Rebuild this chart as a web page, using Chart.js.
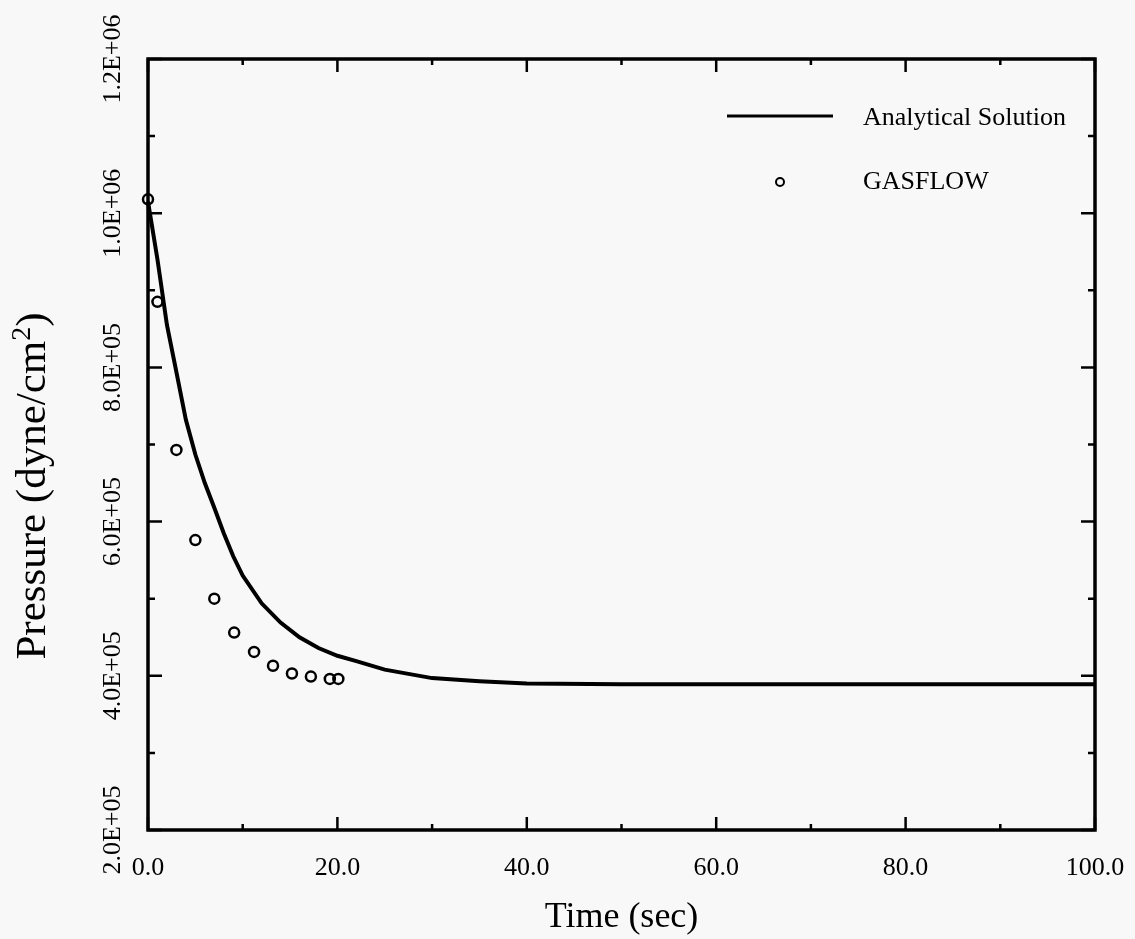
<!DOCTYPE html>
<html>
<head>
<meta charset="utf-8">
<script src="https://cdn.jsdelivr.net/npm/chart.js@4.4.1/dist/chart.umd.min.js"></script>
<style>
  html, body { margin: 0; padding: 0; background: #f8f8f8; }
  #wrap { width: 1135px; height: 939px; position: relative; }
</style>
</head>
<body>
<div id="wrap"><canvas id="chart"></canvas></div>
<script>
// Analytical solution (time in sec, pressure in dyne/cm2)
const analyticTime = [0, 1, 2, 3, 4, 5, 6, 7, 8, 9, 10, 12, 14, 16, 18, 20, 22, 25, 30, 35, 40, 50, 60, 80, 100];
const analyticPressure = [1.015e6, 9.40e5, 8.55e5, 7.94e5, 7.32e5, 6.87e5, 6.50e5, 6.18e5, 5.85e5, 5.55e5, 5.30e5,
  4.94e5, 4.69e5, 4.50e5, 4.36e5, 4.26e5, 4.19e5, 4.08e5, 3.97e5, 3.93e5, 3.90e5, 3.89e5, 3.89e5, 3.89e5, 3.89e5];

// GASFLOW results
const gasTime = [0, 1, 3, 5, 7, 9.1, 11.2, 13.2, 15.2, 17.2, 19.2, 20.1];
const gasPressure = [1.018e6, 8.85e5, 6.93e5, 5.76e5, 5.00e5, 4.56e5, 4.31e5, 4.13e5, 4.03e5, 3.99e5, 3.96e5, 3.96e5];

// Axis ranges and labelled ticks
const xMin = 0, xMax = 100, xStep = 10;
const yMin = 2e5, yMax = 1.2e6, yStep = 1e5;
const xLabelTicks = [0, 20, 40, 60, 80, 100];
const yLabelTicks = [2e5, 4e5, 6e5, 8e5, 1e6, 1.2e6];

const SERIF = '"Liberation Serif", "Times New Roman", serif';

function sciLabel(v) {
  const e = Math.floor(Math.log10(v) + 1e-9);
  const m = (v / Math.pow(10, e)).toFixed(1);
  return m + 'E+' + String(e).padStart(2, '0');
}

function toPoints(xs, ys) {
  return xs.map((x, i) => ({ x: x, y: ys[i] }));
}

// frame, inward ticks, tick labels, axis titles and legend
const framePlugin = {
  id: 'frame',
  afterDatasetsDraw(chart) {
    const ctx = chart.ctx;
    const a = chart.chartArea;
    const xs = chart.scales.x, ys = chart.scales.y;
    ctx.save();
    ctx.strokeStyle = '#000';
    ctx.fillStyle = '#000';

    // ticks on all four sides, pointing inward
    ctx.lineWidth = 2.5;
    ctx.beginPath();
    xs.ticks.forEach(t => {
      const px = xs.getPixelForValue(t.value);
      const len = xLabelTicks.includes(t.value) ? 13 : 6;
      ctx.moveTo(px, a.bottom); ctx.lineTo(px, a.bottom - len);
      ctx.moveTo(px, a.top); ctx.lineTo(px, a.top + len);
    });
    ys.ticks.forEach(t => {
      const py = ys.getPixelForValue(t.value);
      const major = yLabelTicks.some(v => Math.abs(v - t.value) < 1);
      const len = major ? 14 : 7;
      ctx.moveTo(a.left, py); ctx.lineTo(a.left + len, py);
      ctx.moveTo(a.right, py); ctx.lineTo(a.right - len, py);
    });
    ctx.stroke();

    // frame
    ctx.lineWidth = 3.5;
    ctx.strokeRect(a.left, a.top, a.right - a.left, a.bottom - a.top);

    // x tick labels
    ctx.font = '26px ' + SERIF;
    ctx.textAlign = 'center';
    ctx.textBaseline = 'alphabetic';
    xLabelTicks.forEach(v => {
      ctx.fillText(v.toFixed(1), xs.getPixelForValue(v), 875);
    });

    // y tick labels, rotated
    yLabelTicks.forEach(v => {
      ctx.save();
      ctx.translate(120, ys.getPixelForValue(v));
      ctx.rotate(-Math.PI / 2);
      ctx.textAlign = 'center';
      ctx.fillText(sciLabel(v), 0, 0);
      ctx.restore();
    });

    // x title
    ctx.font = '36px ' + SERIF;
    ctx.textAlign = 'center';
    ctx.fillText('Time (sec)', (a.left + a.right) / 2, 927);

    // y title with superscript
    ctx.save();
    ctx.translate(45, 486);
    ctx.rotate(-Math.PI / 2);
    const main = 'Pressure (dyne/cm';
    ctx.font = '43px ' + SERIF;
    const wMain = ctx.measureText(main).width;
    ctx.font = '28px ' + SERIF;
    const wSup = ctx.measureText('2').width;
    ctx.font = '43px ' + SERIF;
    const wClose = ctx.measureText(')').width;
    let x0 = -(wMain + wSup + wClose) / 2;
    ctx.textAlign = 'left';
    ctx.fillText(main, x0, 0);
    ctx.font = '28px ' + SERIF;
    ctx.fillText('2', x0 + wMain, -15);
    ctx.font = '43px ' + SERIF;
    ctx.fillText(')', x0 + wMain + wSup, 0);
    ctx.restore();

    // legend
    ctx.lineWidth = 3;
    ctx.beginPath();
    ctx.moveTo(727, 116); ctx.lineTo(833, 116);
    ctx.stroke();
    ctx.lineWidth = 2;
    ctx.beginPath();
    ctx.arc(780, 182, 4, 0, Math.PI * 2);
    ctx.stroke();
    ctx.font = '26px ' + SERIF;
    ctx.textAlign = 'left';
    ctx.textBaseline = 'middle';
    ctx.fillText('Analytical Solution', 863, 118);
    ctx.fillText('GASFLOW', 863, 182);
    ctx.restore();
  }
};

new Chart(document.getElementById('chart'), {
  type: 'scatter',
  data: {
    datasets: [
      {
        label: 'Analytical Solution',
        data: toPoints(analyticTime, analyticPressure),
        showLine: true,
        borderColor: '#000',
        borderWidth: 4,
        pointRadius: 0,
        tension: 0,
        clip: false
      },
      {
        label: 'GASFLOW',
        data: toPoints(gasTime, gasPressure),
        showLine: false,
        borderColor: '#000',
        backgroundColor: 'rgba(0,0,0,0)',
        pointRadius: 5,
        pointBorderWidth: 2.5,
        clip: false
      }
    ]
  },
  options: {
    responsive: true,
    maintainAspectRatio: false,
    animation: false,
    layout: { padding: { left: 140, right: 40, top: 59, bottom: 101 } },
    plugins: { legend: { display: false }, tooltip: { enabled: false } },
    scales: {
      x: {
        type: 'linear', min: xMin, max: xMax,
        ticks: { stepSize: xStep, display: false },
        grid: { display: false },
        border: { display: false }
      },
      y: {
        type: 'linear', min: yMin, max: yMax,
        ticks: { stepSize: yStep, display: false },
        grid: { display: false },
        border: { display: false }
      }
    }
  },
  plugins: [framePlugin]
});
</script>
</body>
</html>
